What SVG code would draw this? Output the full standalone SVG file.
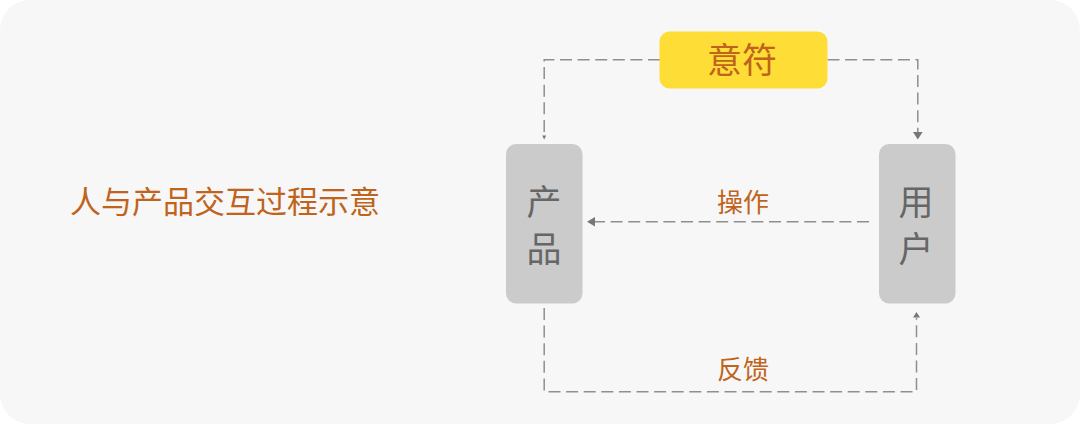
<svg xmlns="http://www.w3.org/2000/svg" width="1080" height="424" viewBox="0 0 1080 424">
<style>
text{font-family:"Noto Sans CJK SC","Liberation Sans",sans-serif;text-anchor:middle}
.o{fill:#c0631b}
.g{fill:#666}
.n{fill:#cbcbcb}
.c{fill:none;stroke:#8f8f8f;stroke-width:1.5;stroke-dasharray:12 5.6}
.a{fill:#777}
</style>
<rect width="1080" height="424" fill="#fff"/>
<rect id="panel" width="1080" height="424" rx="30" fill="#f7f7f7"/>
<text id="title" class="o" x="225" y="213" font-size="31">人与产品交互过程示意</text>
<g id="connectors">
<path class="c" d="M660 59.700H544.200V135"/>
<path class="a" d="M544.200 139.500l-2-4h4z"/>
<path class="c" d="M827.500 59.700H917.800V132"/>
<path class="a" d="M917.800 139.500l-4.800-7.500h9.600z"/>
<path class="c" d="M869 221.700H592"/>
<path class="a" d="M587 221.700l8-4.700v9.400z"/>
<path class="c" d="M544.200 308V391.700H916.500V318"/>
<path class="a" d="M916.500 312l3.500 5.500h-7z"/>
</g>
<g id="node-yifu">
<rect x="659.500" y="31.500" width="168" height="57" rx="10" fill="#fedd37"/>
<text class="o" x="742" y="73" font-size="35">意符</text>
</g>
<g id="node-product">
<rect class="n" x="506" y="144" width="76.500" height="159.500" rx="10"/>
<text class="g" x="544" y="215" font-size="35">产</text>
<text class="g" x="544" y="262" font-size="35">品</text>
</g>
<g id="node-user">
<rect class="n" x="879" y="144" width="76.500" height="159.500" rx="10"/>
<text class="g" x="916" y="215" font-size="35">用</text>
<text class="g" x="916" y="262" font-size="35">户</text>
</g>
<text id="label-op" class="o" x="743" y="212" font-size="26">操作</text>
<text id="label-fb" class="o" x="743" y="379" font-size="26">反馈</text>
</svg>
